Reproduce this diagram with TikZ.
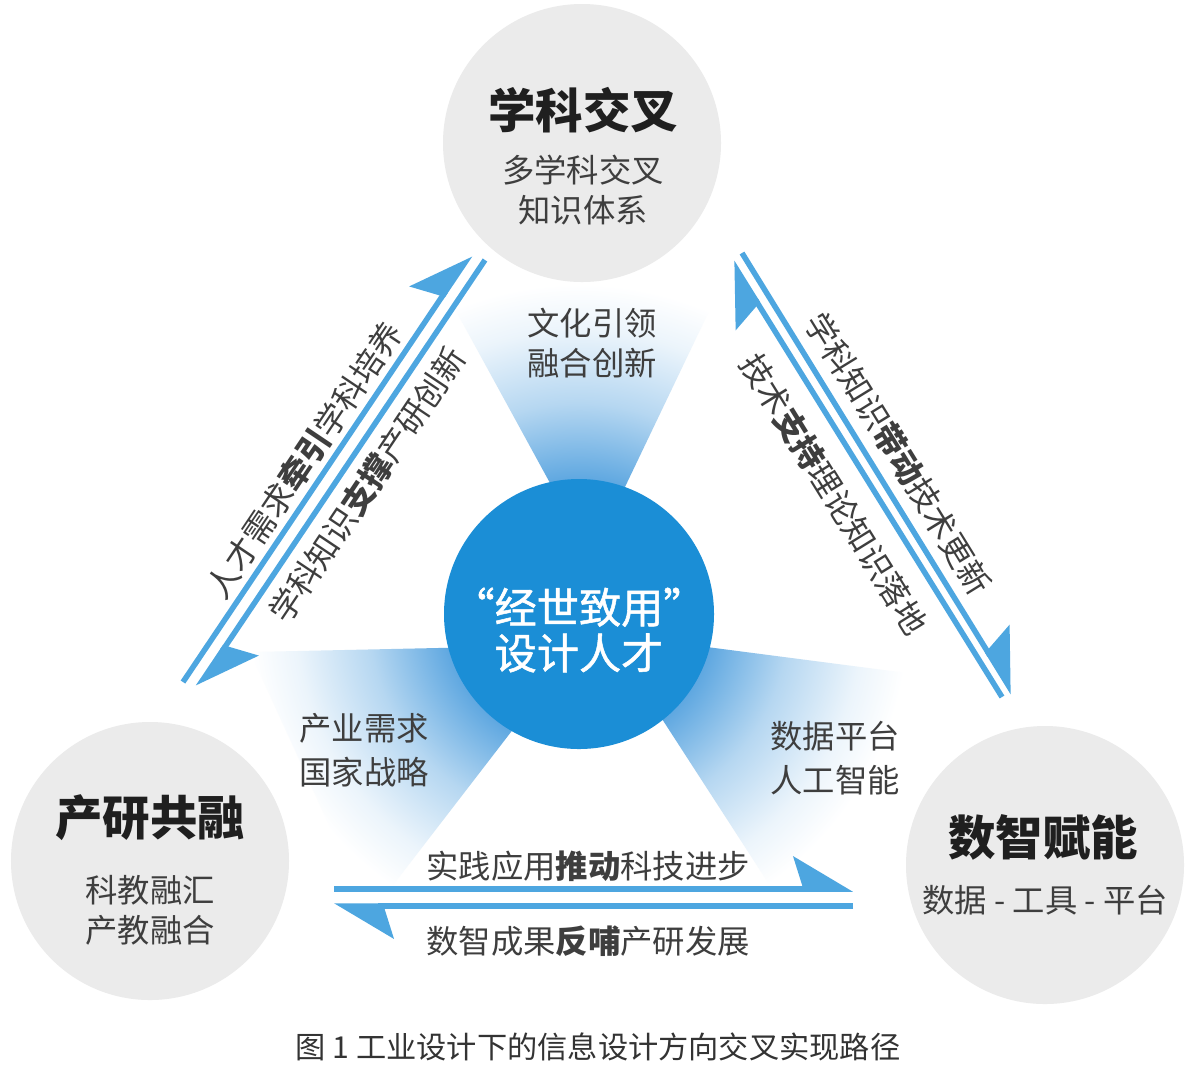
\documentclass[tikz,border=0pt]{standalone}
\usepackage{fontspec}
\newfontfamily\cjk{Noto Sans CJK SC}
\newfontfamily\cjkfat{Noto Sans CJK SC}[FakeBold=1.2]
\usetikzlibrary{arrows.meta}

\definecolor{hubblue}{RGB}{27,142,214}
\definecolor{linkblue}{RGB}{77,166,224}
\definecolor{spokeblue}{RGB}{92,166,224}
\definecolor{discgray}{RGB}{235,235,235}
\definecolor{inkgray}{RGB}{62,62,62}

\pgfdeclareradialshading{spokefade}{\pgfpoint{0bp}{0bp}}{%
  color(0bp)=(spokeblue); color(10bp)=(spokeblue);
  color(16bp)=(spokeblue!45); color(21.5bp)=(spokeblue!12);
  color(25bp)=(white); color(50bp)=(white)}

\begin{document}
\begin{tikzpicture}[x=0.2mm, y=-0.2mm,
  disc/.style={circle, fill=discgray, minimum size=55.6mm, inner sep=0},
  hub/.style={circle, fill=hubblue, minimum size=54mm, inner sep=0},
  headtext/.style={font=\cjk\bfseries\fontsize{27}{30}\selectfont, text=black!88, inner sep=0},
  subtext/.style={font=\cjk\fontsize{18.4}{22.7}\selectfont, text=inkgray, align=center, inner sep=0},
  hubtext/.style={font=\cjkfat\fontsize{24}{26}\selectfont, text=white, align=center, inner sep=0},
  linktext/.style={font=\cjk\fontsize{18.4}{22}\selectfont, text=inkgray, inner sep=0, sloped},
  link/.style={draw=linkblue, line width=1.1mm, -{Stealth[harpoon, length=11mm, width=13mm, inset=2mm]}},
]
\useasboundingbox (0,0) rectangle (1200,1076);
\fill[white] (0,0) rectangle (1200,1076);

% centres
\coordinate (hubc) at (579,614);
\coordinate (topc) at (582,143);
\coordinate (leftc) at (150,861);
\coordinate (rightc) at (1045,865);

% spokes fading out from the hub
\begin{scope}
  \clip (591,558) -- (439,280) -- (724,280) -- cycle
        (578,645) -- (250,652) -- (370,915) -- cycle
        (607,634) -- (930,676) -- (811,949) -- cycle;
  \shade[shading=spokefade] (hubc) circle (330);
\end{scope}

% discs
\node[disc] (topdisc) at (topc) {};
\node[disc] (leftdisc) at (leftc) {};
\node[disc] (rightdisc) at (rightc) {};
\node[hub] (hubdisc) at (hubc) {};

% arrow ends
\coordinate (l1a) at (183,682);
\coordinate (l1b) at (470,255);
\coordinate (l2a) at (485,260);
\coordinate (l2b) at (198,687);
\coordinate (r1a) at (742,253);
\coordinate (r1b) at (1013,693);
\coordinate (r2a) at (1002,697);
\coordinate (r2b) at (732,262);
\coordinate (b1a) at (334,889);
\coordinate (b1b) at (853,889);
\coordinate (b2a) at (853,906);
\coordinate (b2b) at (334,906);

\draw[link] (l1a) -- (l1b) node[linktext, pos=0.49, above=0.95mm] (l1t) {人才需求{\bfseries 牵引}学科培养};
\draw[link] (l2a) -- (l2b) node[linktext, pos=0.49, below=1.95mm] (l2t) {学科知识{\bfseries 支撑}产研创新};
\draw[link] (r1a) -- (r1b) node[linktext, pos=0.49, above=1.95mm] (r1t) {学科知识{\bfseries 带动}技术更新};
\draw[link] (r2a) -- (r2b) node[linktext, pos=0.51, below=3.5mm] (r2t) {技术{\bfseries 支持}理论知识落地};
\draw[link] (b1a) -- (b1b) node[linktext, pos=0.49, above=0.95mm] (b1t) {实践应用{\bfseries 推动}科技进步};
\draw[link] (b2a) -- (b2b) node[linktext, pos=0.51, below=3.5mm] (b2t) {数智成果{\bfseries 反哺}产研发展};

% texts
\node[headtext] (toph) at (583,110) {学科交叉};
\node[subtext] (tops) at (583,190) {多学科交叉\\知识体系};
\node[headtext] (lefth) at (150,818) {产研共融};
\node[subtext] (lefts) at (150,910) {科教融汇\\产教融合};
\node[headtext] (righth) at (1043,837) {数智赋能};
\node[subtext] (rights) at (1045,900) {数据 - 工具 - 平台};
\node[hubtext] (hubt) at (579,630) {“经世致用”\\设计人才};

\node[subtext] (topl) at (592,343) {文化引领\\融合创新};
\node[subtext, font=\cjk\fontsize{18.4}{25}\selectfont] (leftl) at (364,750) {产业需求\\国家战略};
\node[subtext, font=\cjk\fontsize{18.4}{25}\selectfont] (rightl) at (835,758) {数据平台\\人工智能};

\node[font=\cjk\fontsize{17.2}{19}\selectfont, text=black!80, inner sep=0] (caption) at (598,1047) {图 1 工业设计下的信息设计方向交叉实现路径};
\end{tikzpicture}
\end{document}
